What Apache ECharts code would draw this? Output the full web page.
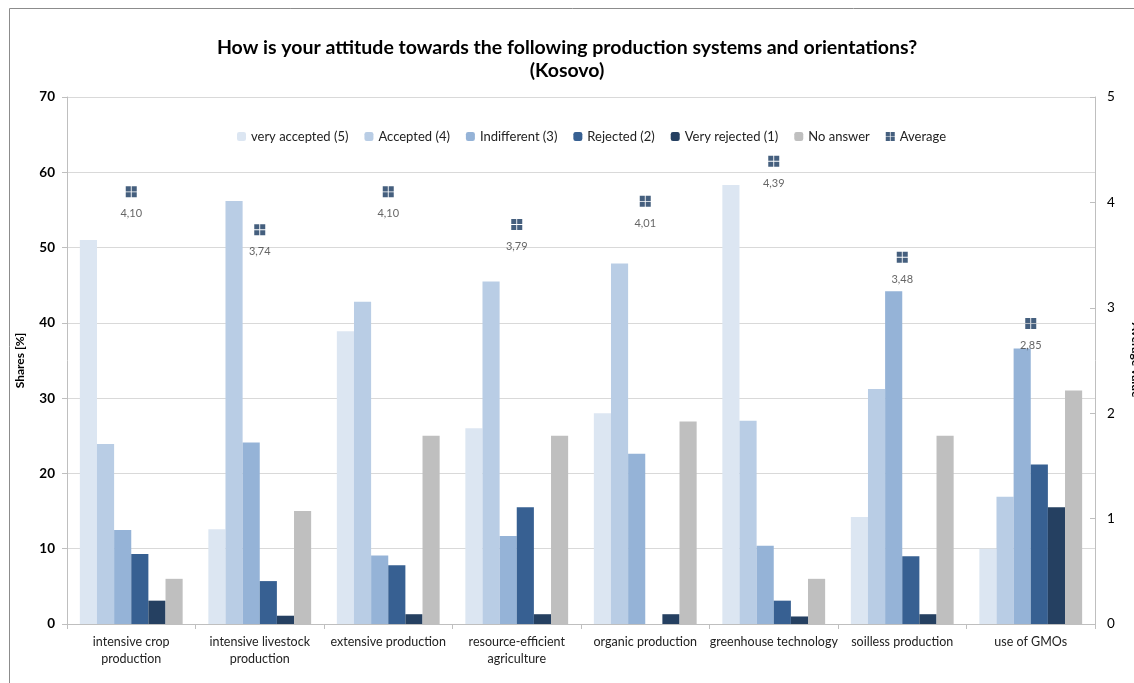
<!DOCTYPE html>
<html>
<head>
<meta charset="utf-8">
<script src="https://cdn.jsdelivr.net/npm/echarts@6/dist/echarts.min.js"></script>
<style>
html,body{margin:0;padding:0;background:#fff;}
#chart{width:1134px;height:683px;}
</style>
</head>
<body>
<div id="chart"></div>
<script>
var categories = [
  "intensive crop\nproduction",
  "intensive livestock\nproduction",
  "extensive production",
  "resource-efficient\nagriculture",
  "organic production",
  "greenhouse technology",
  "soilless production",
  "use of GMOs"
];
var veryAccepted = [51.0, 12.6, 38.9, 26.0, 28.0, 58.3, 14.2, 10.0];
var accepted     = [23.9, 56.2, 42.8, 45.5, 47.9, 27.0, 31.2, 16.9];
var indifferent  = [12.5, 24.1, 9.1, 11.7, 22.6, 10.4, 44.2, 36.6];
var rejected     = [9.3, 5.7, 7.8, 15.5, 0, 3.1, 9.0, 21.2];
var veryRejected = [3.1, 1.1, 1.3, 1.3, 1.3, 1.0, 1.3, 15.5];
var noAnswer     = [6.0, 15.0, 25.0, 25.0, 26.9, 6.0, 25.0, 31.0];
var average      = [4.10, 3.74, 4.10, 3.79, 4.01, 4.39, 3.48, 2.85];
var leftTicks = {min: 0, max: 70, interval: 10};
var rightTicks = {min: 0, max: 5, interval: 1};
var rightAxisName = 'Average value';

var FONT = 'Lato, "Liberation Sans", sans-serif';
var chart = echarts.init(document.getElementById('chart'));

function barSeries(name, data, color) {
  return {
    name: name, type: 'bar', data: data,
    barGap: '0%', barCategoryGap: '20%',
    itemStyle: {color: color},
    emphasis: {disabled: true}
  };
}

var option = {
  backgroundColor: '#fff',
  animation: false,
  textStyle: {fontFamily: FONT},
  graphic: [{
    type: 'rect', silent: true,
    shape: {x: 9.5, y: 8.5, width: 1300, height: 900},
    style: {fill: 'none', stroke: '#8c8c8c', lineWidth: 1}
  }, {
    type: 'text', silent: true,
    x: 1136, y: 360, rotation: -Math.PI / 2,
    style: {
      text: rightAxisName, fontFamily: FONT, fontSize: 12, fontWeight: 'bold',
      fill: '#000', align: 'center', verticalAlign: 'middle'
    }
  }],
  title: {
    text: 'How is your attitude towards the following production systems and orientations?\n(Kosovo)',
    left: 'center', top: 31,
    textStyle: {fontFamily: FONT, fontSize: 19.5, fontWeight: 'bold', color: '#000', lineHeight: 23}
  },
  legend: {
    left: 232, top: 125,
    itemWidth: 9, itemHeight: 9, itemGap: 16,
    textStyle: {fontFamily: FONT, fontSize: 13, color: '#222'},
    data: ['very accepted (5)', 'Accepted (4)', 'Indifferent (3)', 'Rejected (2)', 'Very rejected (1)', 'No answer', 'Average']
  },
  grid: {left: 67, right: 39, top: 97, bottom: 59, containLabel: false},
  xAxis: {
    type: 'category', data: categories,
    axisLine: {show: true, lineStyle: {color: '#BFBFBF'}},
    axisTick: {show: true, length: 5, alignWithLabel: false, lineStyle: {color: '#BFBFBF'}},
    axisLabel: {interval: 0, fontFamily: FONT, fontSize: 12.5, color: '#222', lineHeight: 17, margin: 9}
  },
  yAxis: [{
    type: 'value', min: leftTicks.min, max: leftTicks.max, interval: leftTicks.interval,
    name: 'Shares [%]', nameLocation: 'middle', nameGap: 41,
    nameTextStyle: {fontFamily: FONT, fontSize: 12, fontWeight: 'bold', color: '#000'},
    axisLine: {show: true, lineStyle: {color: '#BFBFBF'}},
    axisTick: {show: true, length: 5, lineStyle: {color: '#BFBFBF'}},
    axisLabel: {fontFamily: FONT, fontSize: 13.5, fontWeight: 'bold', color: '#000', margin: 12},
    splitLine: {show: true, lineStyle: {color: '#D9D9D9', width: 1}}
  }, {
    type: 'value', min: rightTicks.min, max: rightTicks.max, interval: rightTicks.interval,
    position: 'right',
    axisLine: {show: true, lineStyle: {color: '#BFBFBF'}},
    axisTick: {show: true, length: 5, inside: true, lineStyle: {color: '#BFBFBF'}},
    axisLabel: {fontFamily: FONT, fontSize: 13.5, color: '#000', margin: 12},
    splitLine: {show: false}
  }],
  series: [
    barSeries('very accepted (5)', veryAccepted, '#DCE6F2'),
    barSeries('Accepted (4)', accepted, '#B9CDE5'),
    barSeries('Indifferent (3)', indifferent, '#95B3D7'),
    barSeries('Rejected (2)', rejected, '#376092'),
    barSeries('Very rejected (1)', veryRejected, '#254061'),
    barSeries('No answer', noAnswer, '#BFBFBF'),
    {
      name: 'Average', type: 'scatter', yAxisIndex: 1, data: average,
      symbol: 'path://M0,0H4.6V4.6H0Z M5.4,0H10V4.6H5.4Z M0,5.4H4.6V10H0Z M5.4,5.4H10V10H5.4Z',
      symbolSize: 11,
      itemStyle: {color: '#17375E'},
      label: {
        show: true, position: 'bottom', distance: 11,
        fontFamily: FONT, fontSize: 11, color: '#404040',
        formatter: function (p) { return p.value.toFixed(2).replace('.', ','); }
      },
      emphasis: {disabled: true},
      z: 5
    }
  ]
};
chart.setOption(option);
</script>
</body>
</html>
